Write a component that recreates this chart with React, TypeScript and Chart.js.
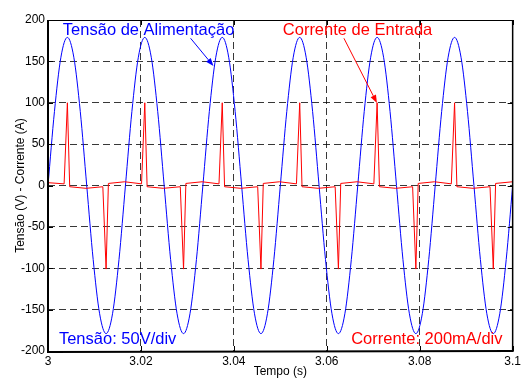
import React, { useEffect, useRef } from 'react';
import { Chart, registerables } from 'chart.js';

Chart.register(...registerables);

// ---- data ----
const voltageTime = [
  3.0, 3.001389, 3.002778, 3.004167, 3.005556, 3.006944, 3.008333, 3.009722, 3.011111, 3.0125, 3.013889, 3.015278,
  3.016667, 3.018056, 3.019444, 3.020833, 3.022222, 3.023611, 3.025, 3.026389, 3.027778, 3.029167, 3.030556, 3.031944,
  3.033333, 3.034722, 3.036111, 3.0375, 3.038889, 3.040278, 3.041667, 3.043056, 3.044444, 3.045833, 3.047222, 3.048611,
  3.05, 3.051389, 3.052778, 3.054167, 3.055556, 3.056944, 3.058333, 3.059722, 3.061111, 3.0625, 3.063889, 3.065278,
  3.066667, 3.068056, 3.069444, 3.070833, 3.072222, 3.073611, 3.075, 3.076389, 3.077778, 3.079167, 3.080556, 3.081944,
  3.083333, 3.084722, 3.086111, 3.0875, 3.088889, 3.090278, 3.091667, 3.093056, 3.094444, 3.095833, 3.097222, 3.098611,
  3.1,
];
const voltageValue = [
  0, 89.5, 155, 179, 155, 89.5, 0, -89.5, -155, -179, -155, -89.5,
  0, 89.5, 155, 179, 155, 89.5, 0, -89.5, -155, -179, -155, -89.5,
  0, 89.5, 155, 179, 155, 89.5, 0, -89.5, -155, -179, -155, -89.5,
  0, 89.5, 155, 179, 155, 89.5, 0, -89.5, -155, -179, -155, -89.5,
  0, 89.5, 155, 179, 155, 89.5, 0, -89.5, -155, -179, -155, -89.5,
  0, 89.5, 155, 179, 155, 89.5, 0, -89.5, -155, -179, -155, -89.5,
  0,
];
const currentTime = [
  3.0,
  3.00347, 3.00417, 3.00467, 3.00817, 3.0118, 3.0125, 3.013, 3.0165,
  3.02013, 3.02083, 3.02133, 3.02483, 3.02847, 3.02917, 3.02967, 3.03317,
  3.0368, 3.0375, 3.038, 3.0415, 3.04513, 3.04583, 3.04633, 3.04983,
  3.05347, 3.05417, 3.05467, 3.05817, 3.0618, 3.0625, 3.063, 3.0665,
  3.07013, 3.07083, 3.07133, 3.07483, 3.07847, 3.07917, 3.07967, 3.08317,
  3.0868, 3.0875, 3.088, 3.0915, 3.09513, 3.09583, 3.09633,
  3.1,
];
const currentValue = [
  3.4,
  2, 100, -1.5, -3.4, -1.5, -101, 2.5, 4.5,
  2, 100, -1.5, -3.4, -1.5, -101, 2.5, 4.5,
  2, 100, -1.5, -3.4, -1.5, -101, 2.5, 4.5,
  2, 100, -1.5, -3.4, -1.5, -101, 2.5, 4.5,
  2, 100, -1.5, -3.4, -1.5, -101, 2.5, 4.5,
  2, 100, -1.5, -3.4, -1.5, -101, 2.5,
  4.5,
];
const xTickValues = [3, 3.02, 3.04, 3.06, 3.08, 3.1];
const xTickLabels = ['3', '3.02', '3.04', '3.06', '3.08', '3.1'];
const yTickValues = [-200, -150, -100, -50, 0, 50, 100, 150, 200];
const yTickLabels = ['-200', '-150', '-100', '-50', '0', '50', '100', '150', '200'];
const xTitle = 'Tempo (s)';
const yTitle = 'Tensão (V) - Corrente (A)';
const voltageLabel = 'Tensão de Alimentação';
const currentLabel = 'Corrente de Entrada';
const voltageNote = 'Tensão: 50V/div';
const currentNote = 'Corrente: 200mA/div';

const FONT = "'Liberation Sans', Arial, Helvetica, sans-serif";
const BLUE = '#0000ff';
const RED = '#ff0000';

const annotations = {
  texts: [
    { text: voltageLabel, t: 3.0032, v: 181.9, color: BLUE },
    { text: currentLabel, t: 3.05053, v: 181.9, color: RED },
    { text: voltageNote, t: 3.00235, v: -192.1, color: BLUE },
    { text: currentNote, t: 3.06525, v: -192.1, color: RED },
  ],
  arrows: [
    { from: [3.03069, 177.9], to: [3.03561, 144.4], color: BLUE },
    { from: [3.06369, 177.9], to: [3.07079, 99.7], color: RED },
  ],
};

const matlabPlugin = {
  id: 'matlabDecor',
  afterDatasetsDraw(chart: any) {
    const { ctx, scales } = chart;
    const xs = scales.x;
    const ys = scales.y;
    ctx.save();
    ctx.font = `16.5px ${FONT}`;
    ctx.textAlign = 'left';
    ctx.textBaseline = 'alphabetic';
    for (const a of annotations.texts) {
      ctx.fillStyle = a.color;
      ctx.fillText(a.text, xs.getPixelForValue(a.t), ys.getPixelForValue(a.v));
    }
    for (const ar of annotations.arrows) {
      const x1 = xs.getPixelForValue(ar.from[0]);
      const y1 = ys.getPixelForValue(ar.from[1]);
      const x2 = xs.getPixelForValue(ar.to[0]);
      const y2 = ys.getPixelForValue(ar.to[1]);
      const ang = Math.atan2(y2 - y1, x2 - x1);
      const len = 8;
      const hw = 3;
      const bx = x2 - len * Math.cos(ang);
      const by = y2 - len * Math.sin(ang);
      ctx.strokeStyle = ar.color;
      ctx.fillStyle = ar.color;
      ctx.lineWidth = 1;
      ctx.beginPath();
      ctx.moveTo(x1, y1);
      ctx.lineTo(bx, by);
      ctx.stroke();
      ctx.beginPath();
      ctx.moveTo(x2, y2);
      ctx.lineTo(bx + hw * Math.sin(ang), by - hw * Math.cos(ang));
      ctx.lineTo(bx - hw * Math.sin(ang), by + hw * Math.cos(ang));
      ctx.closePath();
      ctx.fill();
    }
    ctx.restore();
  },
  afterDraw(chart: any) {
    const { ctx, chartArea, scales } = chart;
    const { left, right, top, bottom } = chartArea;
    ctx.save();
    ctx.strokeStyle = '#000';
    ctx.lineWidth = 1;
    // inward tick marks
    ctx.beginPath();
    for (const v of xTickValues) {
      const px = Math.round(scales.x.getPixelForValue(v)) + 0.5;
      ctx.moveTo(px, bottom);
      ctx.lineTo(px, bottom - 5);
      ctx.moveTo(px, top);
      ctx.lineTo(px, top + 5);
    }
    for (const v of yTickValues) {
      const py = Math.round(scales.y.getPixelForValue(v)) + 0.5;
      ctx.moveTo(left, py);
      ctx.lineTo(left + 5, py);
      ctx.moveTo(right, py);
      ctx.lineTo(right - 5, py);
    }
    ctx.stroke();
    // frame
    ctx.lineWidth = 1;
    ctx.beginPath();
    ctx.moveTo(left, top + 0.5);
    ctx.lineTo(right, top + 0.5);
    ctx.stroke();
    ctx.lineWidth = 1.5;
    ctx.beginPath();
    ctx.moveTo(right, top);
    ctx.lineTo(right, bottom);
    ctx.stroke();
    ctx.lineWidth = 2;
    ctx.beginPath();
    ctx.moveTo(left, top);
    ctx.lineTo(left, bottom + 1);
    ctx.lineTo(right + 1, bottom);
    ctx.stroke();
    ctx.restore();
  },
};

const gridColor = (values: number[]) => (c: any) => {
  const v = c.tick ? c.tick.value : null;
  if (v === values[0] || v === values[values.length - 1]) return 'rgba(0,0,0,0)';
  return 'rgba(0,0,0,0.78)';
};

export default function App() {
  const canvasRef = useRef<HTMLCanvasElement | null>(null);

  useEffect(() => {
    if (!canvasRef.current) return;
    const chart = new Chart(canvasRef.current, {
      type: 'line',
      data: {
        datasets: [
          {
            label: currentLabel,
            data: currentTime.map((t, i) => ({ x: t, y: currentValue[i] })),
            borderColor: RED,
            borderWidth: 1,
            pointRadius: 0,
            fill: false,
            tension: 0,
          },
          {
            label: voltageLabel,
            data: voltageTime.map((t, i) => ({ x: t, y: voltageValue[i] })),
            borderColor: BLUE,
            borderWidth: 1,
            pointRadius: 0,
            fill: false,
            cubicInterpolationMode: 'monotone',
          },
        ],
      },
      options: {
        animation: false,
        responsive: true,
        maintainAspectRatio: false,
        layout: { padding: { top: 20, right: 7, left: 0, bottom: 0 } },
        plugins: {
          legend: { display: false },
          tooltip: { enabled: false },
        },
        events: [],
        scales: {
          x: {
            type: 'linear',
            min: 3,
            max: 3.1,
            afterBuildTicks: (scale: any) => {
              scale.ticks = xTickValues.map((v) => ({ value: v }));
            },
            afterFit: (scale: any) => {
              scale.height = 28;
            },
            ticks: {
              autoSkip: false,
              maxRotation: 0,
              padding: 3,
              color: '#000',
              font: { family: FONT, size: 12 },
              callback: (value: any) => xTickLabels[xTickValues.indexOf(Number(value))],
            },
            grid: {
              drawTicks: false,
              color: gridColor(xTickValues),
              lineWidth: 1,
            },
            border: { display: false, dash: [7, 4] },
            title: {
              display: true,
              text: xTitle,
              color: '#000',
              font: { family: FONT, size: 12 },
              padding: { top: 0, bottom: 0 },
            },
          },
          y: {
            type: 'linear',
            min: -200,
            max: 200,
            afterBuildTicks: (scale: any) => {
              scale.ticks = yTickValues.map((v) => ({ value: v }));
            },
            afterFit: (scale: any) => {
              scale.width = 48;
            },
            ticks: {
              autoSkip: false,
              padding: 3,
              color: '#000',
              font: { family: FONT, size: 12 },
              callback: (value: any) => yTickLabels[yTickValues.indexOf(Number(value))],
            },
            grid: {
              drawTicks: false,
              color: gridColor(yTickValues),
              lineWidth: 1,
            },
            border: { display: false, dash: [7, 4] },
            title: {
              display: true,
              text: yTitle,
              color: '#000',
              font: { family: FONT, size: 12 },
              padding: { top: 13, bottom: 0 },
            },
          },
        },
      } as any,
      plugins: [matlabPlugin],
    });
    return () => chart.destroy();
  }, []);

  return (
    <div style={{ position: 'absolute', left: 0, top: 0, width: 524, height: 379, background: '#fff' }}>
      <canvas ref={canvasRef} />
    </div>
  );
}
